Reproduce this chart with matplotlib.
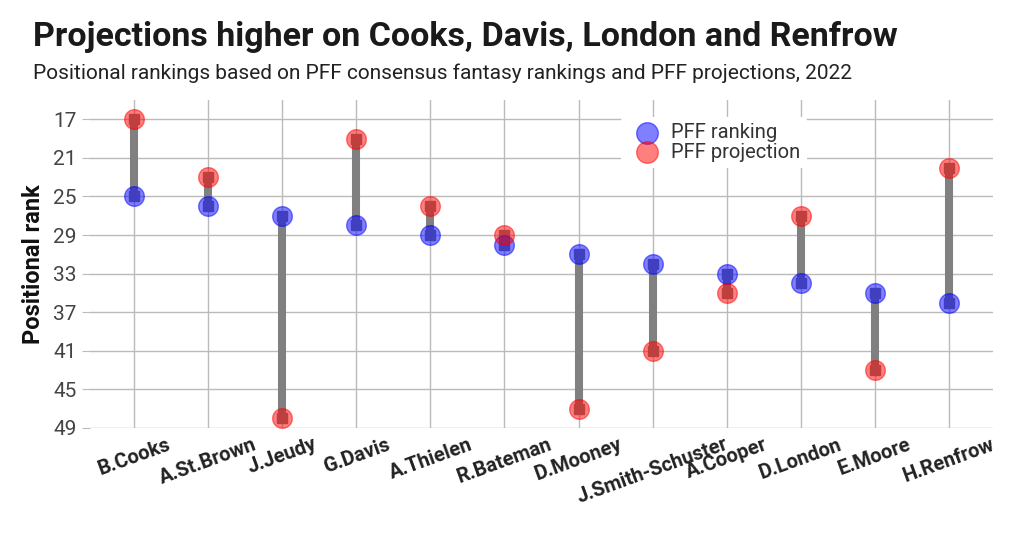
import matplotlib.pyplot as plt
import numpy as np

plt.rcParams['font.family'] = ['Roboto', 'DejaVu Sans']

players = ['B.Cooks', 'A.St.Brown', 'J.Jeudy', 'G.Davis', 'A.Thielen', 'R.Bateman',
           'D.Mooney', 'J.Smith-Schuster', 'A.Cooper', 'D.London', 'E.Moore', 'H.Renfrow']
pff_ranking = [25, 26, 27, 28, 29, 30, 31, 32, 33, 34, 35, 36]
pff_projection = [17, 23, 48, 19, 26, 29, 47, 41, 35, 27, 43, 22]
y_ticks = [17, 21, 25, 29, 33, 37, 41, 45, 49]

fig = plt.figure(figsize=(10.24, 5.46), dpi=100)
ax = fig.add_axes([90 / 1024, 1 - 428 / 546, (993 - 90) / 1024, (428 - 100) / 546])

x = np.arange(len(players))

# connecting bars with square ends
for i in x:
    ax.plot([i, i], [pff_ranking[i], pff_projection[i]], color='#808080', lw=5.8,
            marker='s', markersize=6.5, solid_capstyle='butt', zorder=2)

ax.scatter(x, pff_ranking, s=200, color='blue', alpha=0.5, zorder=3, label='PFF ranking')
ax.scatter(x, pff_projection, s=200, color='red', alpha=0.5, zorder=3, label='PFF projection')

ax.set_xlim(-0.6, 11.6)
ax.set_ylim(49, 15)
ax.set_yticks(y_ticks)
ax.set_xticks(x)
ax.set_xticklabels(players, rotation=20, fontsize=14.5, fontweight='bold', color='#222222')
ax.tick_params(axis='y', labelsize=15, labelcolor='#444444', color='#bbbbbb', length=6)
ax.tick_params(axis='x', length=0, pad=5)
ax.grid(True, color='#bbbbbb', lw=1)
ax.set_axisbelow(True)
for s in ax.spines.values():
    s.set_visible(False)

ax.set_ylabel('Positional rank', fontsize=17, fontweight='bold', color='#111111', labelpad=6)

leg = ax.legend(loc='upper left', bbox_to_anchor=(0.577, 0.978), frameon=True, fontsize=14.5,
                handletextpad=0.2, borderpad=0.3, labelspacing=0.02, markerscale=1.1)
leg.get_frame().set_facecolor('white')
leg.get_frame().set_edgecolor('none')
leg.get_frame().set_alpha(1)
for t in leg.get_texts():
    t.set_color('#333333')

fig.text(33 / 1024, 1 - 37 / 546, 'Projections higher on Cooks, Davis, London and Renfrow',
         fontsize=24.5, fontweight='bold', color='#1a1a1a', va='center')
fig.text(33 / 1024, 1 - 73 / 546,
         'Positional rankings based on PFF consensus fantasy rankings and PFF projections, 2022',
         fontsize=15, color='#222222', va='center')

fig.savefig('out.png', dpi=100)
